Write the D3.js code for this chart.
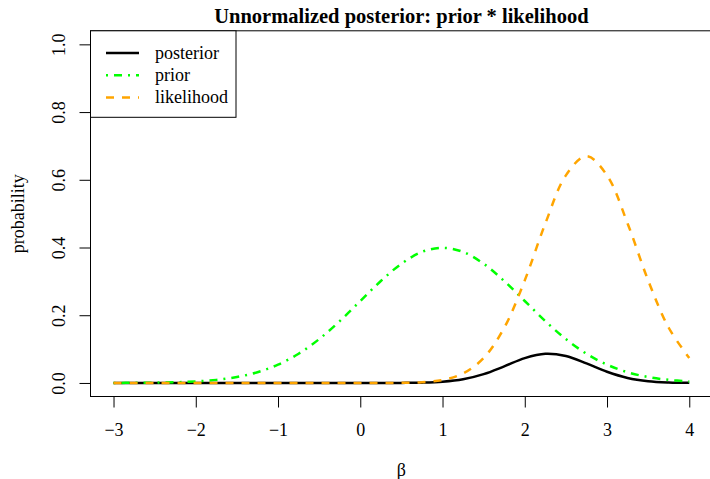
<!DOCTYPE html>
<html>
<head>
<meta charset="utf-8">
<script src="https://cdn.jsdelivr.net/npm/d3@7"></script>
<style>
  body { margin: 0; background: #fff; }
  svg { display: block; font-family: "Liberation Serif", "Times New Roman", serif; }
</style>
</head>
<body>
<svg id="chart"></svg>
<script>
// values, beta from -3 to 4 in steps of 0.25
const betas = [-3, -2.75, -2.5, -2.25, -2, -1.75, -1.5, -1.25, -1, -0.75, -0.5, -0.25,
  0, 0.25, 0.5, 0.75, 1, 1.25, 1.5, 1.75, 2, 2.25, 2.5, 2.75, 3, 3.25, 3.5, 3.75, 4];
const prior = [0.0001, 0.0004, 0.0009, 0.002, 0.0044, 0.0091, 0.0175, 0.0317, 0.054, 0.0863,
  0.1295, 0.1826, 0.242, 0.301, 0.352, 0.387, 0.399, 0.387, 0.352, 0.301, 0.242, 0.1826,
  0.1295, 0.0863, 0.054, 0.0317, 0.0175, 0.0091, 0.0044];
const likelihood = [0, 0, 0, 0, 0, 0, 0, 0, 0, 0, 0, 0, 0, 0.0001, 0.0005, 0.0024, 0.0089,
  0.028, 0.0738, 0.163, 0.303, 0.471, 0.613, 0.67, 0.613, 0.471, 0.303, 0.163, 0.0738];
const posterior = [0, 0, 0, 0, 0, 0, 0, 0, 0, 0, 0, 0, 0, 0, 0.0002, 0.0009, 0.0036, 0.0108,
  0.026, 0.049, 0.0733, 0.086, 0.0794, 0.0578, 0.0331, 0.0149, 0.0053, 0.0015, 0.0003];
const xTicks = [-3, -2, -1, 0, 1, 2, 3, 4];
const yTicks = [0, 0.2, 0.4, 0.6, 0.8, 1.0];

const width = 710, height = 479;
const svg = d3.select('#chart').attr('width', width).attr('height', height);

// R style: range padded by 4%
let x = d3.scaleLinear().domain([-3.28, 4.28]).range([90.5, 712.3]);
let y = d3.scaleLinear().domain([-0.04, 1.04]).range([396.5, 30.8]);

// plot box (right edge is cut off by the window)
svg.append('rect')
  .attr('x', x(-3.28)).attr('y', y(1.04))
  .attr('width', x(4.28) - x(-3.28)).attr('height', y(-0.04) - y(1.04))
  .attr('fill', 'none').attr('stroke', '#000').attr('stroke-width', 1);

// x axis
let xAxis = svg.append('g').attr('transform', 'translate(0,' + y(-0.04) + ')')
  .call(d3.axisBottom(x).tickValues(xTicks).tickSize(11).tickSizeOuter(0).tickPadding(16)
    .tickFormat(d3.format('d')));
xAxis.select('.domain').attr('d', 'M' + x(-3) + ',0H' + x(4));
xAxis.selectAll('text').attr('font-size', 18).attr('font-family', 'Liberation Serif');

// y axis
let yAxis = svg.append('g').attr('transform', 'translate(' + x(-3.28) + ',0)')
  .call(d3.axisLeft(y).tickValues(yTicks).tickSize(11).tickSizeOuter(0)
    .tickFormat(d3.format('.1f')));
yAxis.select('.domain').attr('d', 'M0,' + y(0) + 'V' + y(1));
yAxis.selectAll('text')
  .attr('font-size', 18).attr('font-family', 'Liberation Serif')
  .attr('text-anchor', 'middle').attr('dy', null).attr('x', null)
  .attr('transform', 'translate(-32,0) rotate(-90)')
  .attr('dominant-baseline', 'central');

// labels
svg.append('text')
  .attr('x', (x(-3.28) + x(4.28)) / 2).attr('y', 23)
  .attr('text-anchor', 'middle').attr('font-size', 20.5).attr('font-weight', 'bold')
  .text('Unnormalized posterior: prior * likelihood');
svg.append('text')
  .attr('x', (x(-3.28) + x(4.28)) / 2).attr('y', 476)
  .attr('text-anchor', 'middle').attr('font-size', 18)
  .text('β');
svg.append('text')
  .attr('transform', 'translate(24,' + y(0.5) + ') rotate(-90)')
  .attr('text-anchor', 'middle').attr('font-size', 18)
  .text('probability');

const series = [
  { name: 'posterior', values: posterior, color: '#000000', dash: null },
  { name: 'prior', values: prior, color: '#00ff00', dash: '2,6,8,6' },
  { name: 'likelihood', values: likelihood, color: '#ffa500', dash: '8,8' }
];

let line = d3.line()
  .x((d, i) => x(betas[i]))
  .y(d => y(d))
  .curve(d3.curveCatmullRom);

svg.append('g').selectAll('.curve')
  .data(series)
  .enter()
  .append('path')
  .classed('curve', true)
  .attr('d', d => line(d.values))
  .attr('fill', 'none')
  .attr('stroke', d => d.color)
  .attr('stroke-width', 2.5)
  .attr('stroke-dasharray', d => d.dash);

// legend
let legend = svg.append('g');
legend.append('rect')
  .attr('x', x(-3.28)).attr('y', y(1.04))
  .attr('width', 145.5).attr('height', 86.5)
  .attr('fill', '#fff').attr('stroke', '#000').attr('stroke-width', 1);
let items = legend.selectAll('.item')
  .data(series)
  .enter()
  .append('g')
  .attr('transform', (d, i) => 'translate(0,' + (53 + i * 22.3) + ')');
items.append('line')
  .attr('x1', 106).attr('x2', 139)
  .attr('stroke', d => d.color).attr('stroke-width', 2.5)
  .attr('stroke-dasharray', d => d.dash);
items.append('text')
  .attr('x', 155).attr('dy', '0.32em')
  .attr('font-size', 18)
  .text(d => d.name);
</script>
</body>
</html>
